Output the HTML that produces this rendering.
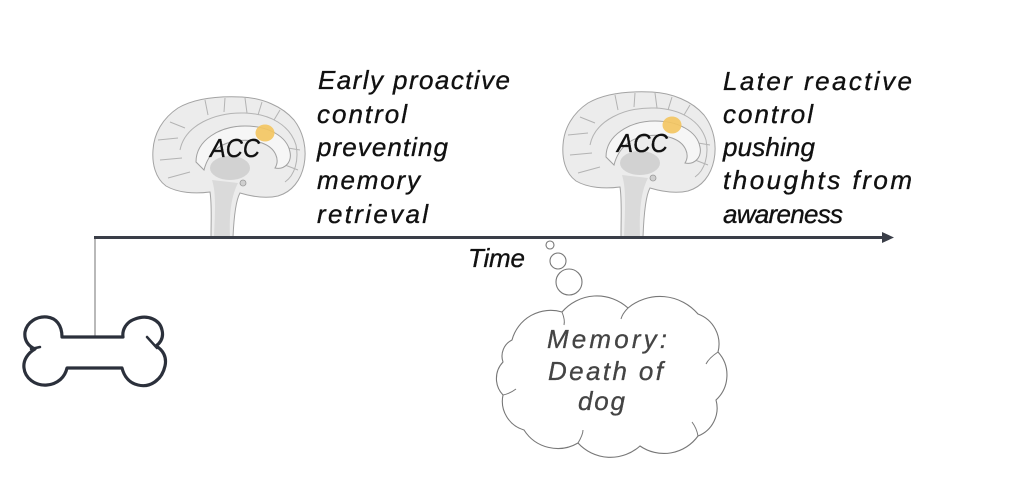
<!DOCTYPE html>
<html><head><meta charset="utf-8"><style>
html,body{margin:0;padding:0;background:#fff;}
svg{display:block;}
.t{font-family:"Liberation Sans",sans-serif;font-style:italic;font-size:26px;fill:#111;stroke:#111;stroke-width:0.35;}
.c{font-family:"Liberation Sans",sans-serif;font-style:italic;font-size:26px;fill:#444;stroke:#444;stroke-width:0.3;}
</style></head><body>
<svg width="1024" height="488" viewBox="0 0 1024 488" xmlns="http://www.w3.org/2000/svg">
<rect width="1024" height="488" fill="#fff"/>

<!-- Brain 1 -->
<g>
<path d="M210,192 C195,194 178,193 166,186 C155,178 152,163 153,150 C154,133 163,118 178,108 C195,98 220,96 242,97 C262,98 282,106 294,120 C304,133 307,150 304,165 C301,180 292,192 278,196 C265,199 250,196 240,193 C236,200 234,215 233,237 L211,237 C211,220 212,205 210,192 Z" fill="#ececec" stroke="#a3a3a3" stroke-width="1"/>
<g fill="none" stroke="#b3b3b3" stroke-width="1">
<path d="M205,100 L208,115 M225,98 L224,112 M245,98 L247,113 M262,102 L258,115 M280,110 L274,120"/>
<path d="M180,150 C185,125 215,112 245,113 C270,114 290,125 296,145 C299,160 295,175 285,182"/>
<path d="M158,140 L178,138 M160,160 L182,158 M168,178 L190,172 M300,150 L288,148 M298,170 L285,165 M170,122 L185,128"/>
</g>
<path d="M196,162 C196,140 220,126 245,126 C268,126 287,136 290,152 C292,162 285,170 275,168 C280,160 276,148 262,143 C248,138 228,140 218,148 C210,154 206,162 204,170 Z" fill="#f6f6f6" stroke="#a0a0a0" stroke-width="1"/>
<ellipse cx="230" cy="168" rx="20" ry="12" fill="#d2d2d2"/>
<path d="M212,180 C215,190 216,200 214,237 L230,237 C229,210 232,195 238,183 Z" fill="#dadada"/>
<circle cx="243" cy="183" r="3" fill="#cfcfcf" stroke="#999" stroke-width="0.8"/>
<ellipse cx="265" cy="133" rx="9.5" ry="8.5" fill="#f4c55f" opacity="0.9"/>
<text class="t" x="210" y="157" textLength="50" lengthAdjust="spacingAndGlyphs">ACC</text>
</g>

<!-- Brain 2 -->
<g transform="translate(410,-5)">
<path d="M210,192 C195,194 178,193 166,186 C155,178 152,163 153,150 C154,133 163,118 178,108 C195,98 220,96 242,97 C262,98 282,106 294,120 C304,133 307,150 304,165 C301,180 292,192 278,196 C265,199 250,196 240,193 C236,200 234,215 233,242 L211,242 C211,220 212,205 210,192 Z" fill="#ececec" stroke="#a3a3a3" stroke-width="1"/>
<g fill="none" stroke="#b3b3b3" stroke-width="1">
<path d="M205,100 L208,115 M225,98 L224,112 M245,98 L247,113 M262,102 L258,115 M280,110 L274,120"/>
<path d="M180,150 C185,125 215,112 245,113 C270,114 290,125 296,145 C299,160 295,175 285,182"/>
<path d="M158,140 L178,138 M160,160 L182,158 M168,178 L190,172 M300,150 L288,148 M298,170 L285,165 M170,122 L185,128"/>
</g>
<path d="M196,162 C196,140 220,126 245,126 C268,126 287,136 290,152 C292,162 285,170 275,168 C280,160 276,148 262,143 C248,138 228,140 218,148 C210,154 206,162 204,170 Z" fill="#f6f6f6" stroke="#a0a0a0" stroke-width="1"/>
<ellipse cx="230" cy="168" rx="20" ry="12" fill="#d2d2d2"/>
<path d="M212,180 C215,190 216,200 214,242 L230,242 C229,210 232,195 238,183 Z" fill="#dadada"/>
<circle cx="243" cy="183" r="3" fill="#cfcfcf" stroke="#999" stroke-width="0.8"/>
<ellipse cx="262" cy="130" rx="9.5" ry="8.5" fill="#f4c55f" opacity="0.9"/>
<text class="t" x="207" y="157" textLength="51" lengthAdjust="spacingAndGlyphs">ACC</text>
</g>

<!-- Left text -->
<text class="t" x="318" y="89" textLength="192" lengthAdjust="spacing">Early proactive</text>
<text class="t" x="317" y="123" textLength="90" lengthAdjust="spacing">control</text>
<text class="t" x="317" y="156" textLength="131" lengthAdjust="spacing">preventing</text>
<text class="t" x="317" y="189" textLength="103" lengthAdjust="spacing">memory</text>
<text class="t" x="317" y="223" textLength="111" lengthAdjust="spacing">retrieval</text>

<!-- Right text -->
<text class="t" x="723" y="90" textLength="189" lengthAdjust="spacing">Later reactive</text>
<text class="t" x="723" y="123" textLength="90" lengthAdjust="spacing">control</text>
<text class="t" x="723" y="156" textLength="92" lengthAdjust="spacing">pushing</text>
<text class="t" x="723" y="189" textLength="189" lengthAdjust="spacing">thoughts from</text>
<text class="t" x="723" y="223" textLength="120" lengthAdjust="spacing">awareness</text>

<!-- Timeline -->
<line x1="95" y1="237" x2="95" y2="338" stroke="#8a8a8a" stroke-width="1.2"/>
<line x1="94" y1="237.5" x2="885" y2="237.5" stroke="#3a3e48" stroke-width="3"/>
<polygon points="882,232 894,237.5 882,243" fill="#3a3e48"/>
<text class="t" x="468" y="267" textLength="57" lengthAdjust="spacing">Time</text>

<!-- Bone -->
<path d="M62,337 L123,337 C122,330 126,322 135,319 C148,314 160,320 162,330 C164,338 160,343 156,346 C163,350 167,357 165,366 C162,380 150,388 138,385 C129,383 124,376 122,368 L67,368 C65,377 58,384 47,385 C35,386 25,378 24,368 C23,360 28,353 35,349 C28,346 24,340 25,332 C27,322 37,316 47,317 C56,318 62,325 62,337 Z" fill="#fff" stroke="#2b303b" stroke-width="3.2" stroke-linejoin="round"/>
<path d="M147,337 L157,348 M31,349 L40,347" stroke="#2b303b" stroke-width="2.5" fill="none" stroke-linecap="round"/>

<!-- Thought bubbles -->
<g fill="#fff" stroke="#777" stroke-width="1.1">
<circle cx="550" cy="245" r="4"/>
<circle cx="558" cy="261" r="8"/>
<circle cx="569" cy="282" r="13"/>
<path d="M512,340 A40,40 0 0 1 562,312 A46,46 0 0 1 628,308 A50,50 0 0 1 698,314 A32,32 0 0 1 718,352 A34,34 0 0 1 716,400 A30,30 0 0 1 698,436 A42,42 0 0 1 640,446 A44,44 0 0 1 578,443 A40,40 0 0 1 524,430 A30,30 0 0 1 503,395 A24,24 0 0 1 503,362 A18,18 0 0 1 512,340 Z"/>
</g>
<g fill="none" stroke="#777" stroke-width="1">
<path d="M562,312 C564,317 565,321 564,325"/>
<path d="M628,308 C624,312 622,315 621,319"/>
<path d="M718,352 C712,356 708,360 706,364"/>
<path d="M698,436 C697,430 695,426 692,422"/>
<path d="M578,443 C581,438 583,434 583,430"/>
<path d="M503,395 C508,394 512,392 516,389"/>
</g>
<text class="c" x="547" y="348" textLength="120" lengthAdjust="spacing">Memory:</text>
<text class="c" x="548" y="380" textLength="115" lengthAdjust="spacing">Death of</text>
<text class="c" x="578" y="410" textLength="47" lengthAdjust="spacing">dog</text>
</svg>
</body></html>
